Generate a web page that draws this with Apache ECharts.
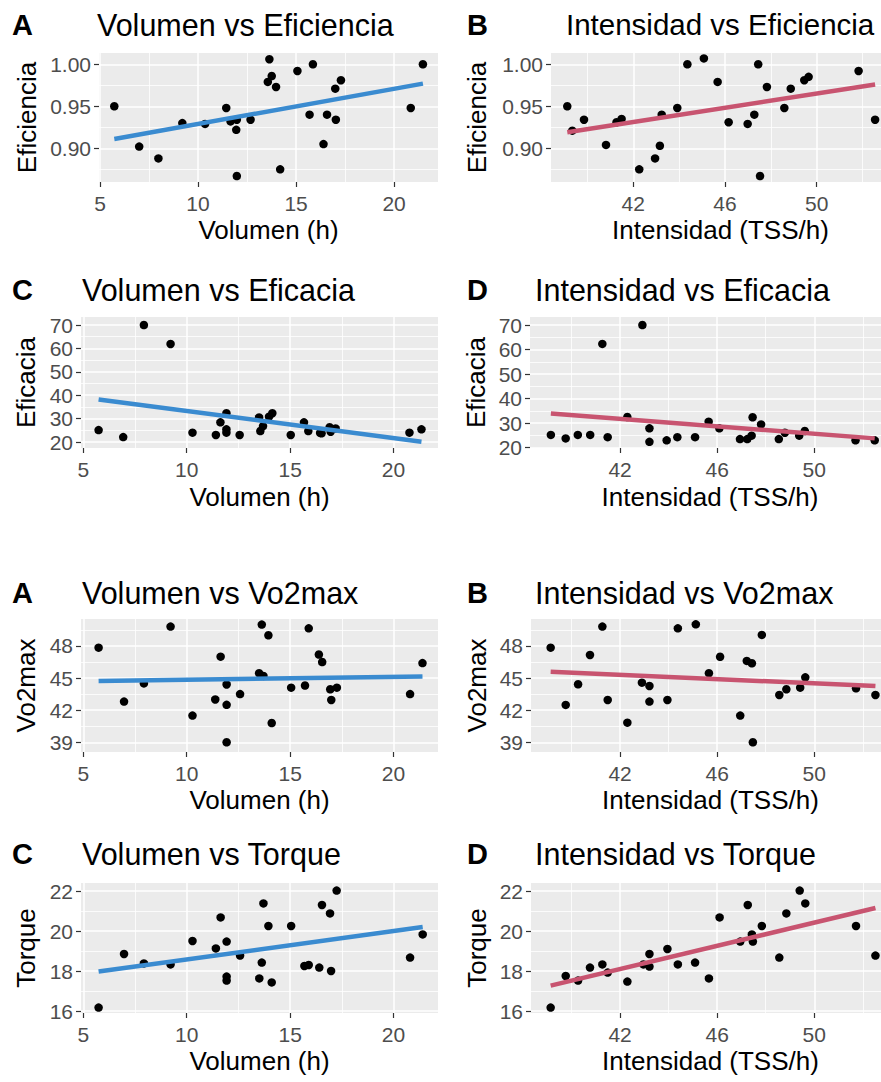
<!DOCTYPE html>
<html>
<head>
<meta charset="utf-8">
<title>Volumen e Intensidad vs rendimiento</title>
<script src="https://cdn.jsdelivr.net/npm/echarts@6/dist/echarts.min.js"></script>
<style>
  html, body { margin: 0; padding: 0; background: #fff; }
  #chart { width: 881px; height: 1082px; }
</style>
</head>
<body>
<div id="chart"></div>
<script>
// tick values
const ticksVol = [5, 10, 15, 20];
const minorVol = [7.5, 12.5, 17.5];
const ticksInt = [42, 46, 50];
const minorInt = [40, 44, 48, 52];
const ticksEfi = [0.90, 0.95, 1.00];
const minorEfi = [0.875, 0.925, 0.975];
const ticksEfc = [20, 30, 40, 50, 60, 70];
const minorEfc = [25, 35, 45, 55, 65];
const ticksVo2 = [39, 42, 45, 48];
const minorVo2 = [40.5, 43.5, 46.5, 49.5];
const ticksTor = [16, 18, 20, 22];
const minorTor = [17, 19, 21];

// Volumen vs Eficiencia
const volEfi = [[5.73,0.950],[7.00,0.902],[7.98,0.888],[9.20,0.930],[10.36,0.929],[11.44,0.948],[11.66,0.932],[11.98,0.934],[11.95,0.922],[11.98,0.867],[12.68,0.934],[13.56,0.979],[13.64,1.006],[13.76,0.986],[13.98,0.973],[14.19,0.875],[15.07,0.992],[15.69,0.940],[15.86,1.000],[16.40,0.905],[16.58,0.940],[17.00,0.971],[17.03,0.934],[17.29,0.981],[20.85,0.948],[21.47,1.000]];
const fitVolEfi = [[5.73,0.911],[21.47,0.977]];

// Intensidad vs Eficiencia
const intEfi = [[39.12,0.950],[39.34,0.921],[39.85,0.934],[40.81,0.904],[41.27,0.931],[41.49,0.935],[42.26,0.875],[42.95,0.888],[43.16,0.903],[43.24,0.940],[43.92,0.948],[44.36,1.000],[45.08,1.007],[45.68,0.979],[46.16,0.931],[46.99,0.929],[47.28,0.940],[47.45,1.000],[47.53,0.867],[47.83,0.973],[48.59,0.948],[48.87,0.971],[49.46,0.981],[49.65,0.985],[51.83,0.992],[52.55,0.934]];
const fitIntEfi = [[39.12,0.919],[52.55,0.976]];

// Volumen vs Eficacia
const volEfc = [[5.74,25.1],[6.93,22.1],[7.93,70.0],[9.22,61.9],[10.28,24.0],[11.41,23.0],[11.63,28.4],[11.92,32.3],[11.92,25.4],[11.92,24.0],[12.56,23.0],[13.50,30.5],[13.56,24.7],[13.69,26.8],[13.98,30.8],[14.14,32.3],[15.03,23.0],[15.67,28.4],[15.88,24.7],[16.45,23.9],[16.52,23.7],[16.91,26.3],[16.96,24.4],[17.20,25.8],[20.77,24.0],[21.35,25.4]];
const fitVolEfc = [[5.74,38.2],[21.35,20.1]];

// Intensidad vs Eficacia
const intEfc = [[39.15,25.2],[39.76,23.8],[40.26,25.2],[40.77,25.2],[41.27,62.3],[41.49,24.3],[42.30,32.5],[42.92,70.0],[43.21,27.9],[43.21,22.4],[43.92,23.0],[44.36,24.3],[45.09,24.3],[45.65,30.6],[46.09,27.9],[46.94,23.5],[47.24,23.5],[47.42,24.9],[47.46,32.4],[47.81,29.5],[48.54,23.5],[48.79,26.1],[49.38,24.9],[49.61,26.8],[51.70,23.0],[52.49,23.0]];
const fitIntEfc = [[39.15,33.9],[52.49,23.8]];

// Volumen vs Vo2max
const volVo2 = [[5.74,47.84],[6.97,42.80],[7.93,44.50],[9.22,49.81],[10.28,41.49],[11.38,43.00],[11.64,47.00],[11.93,42.50],[11.93,44.40],[11.93,39.00],[12.58,43.50],[13.50,45.45],[13.63,50.00],[13.71,45.20],[13.95,49.00],[14.11,40.80],[15.05,44.10],[15.72,44.30],[15.90,49.65],[16.39,47.20],[16.55,46.50],[16.94,43.95],[16.99,42.95],[17.26,44.10],[20.80,43.50],[21.40,46.40]];
const fitVolVo2 = [[5.74,44.73],[21.40,45.15]];

// Intensidad vs Vo2max
const intVo2 = [[39.14,47.84],[39.76,42.49],[40.27,44.42],[40.76,47.16],[41.27,49.81],[41.49,42.95],[42.30,40.83],[42.90,44.57],[43.21,44.26],[43.21,42.80],[43.95,42.95],[44.38,49.65],[45.12,50.02],[45.66,45.45],[46.12,46.99],[46.95,41.49],[47.22,46.60],[47.43,46.38],[47.47,39.00],[47.84,49.03],[48.56,43.42],[48.85,43.95],[49.42,44.10],[49.63,45.07],[51.72,44.04],[52.52,43.42]];
const fitIntVo2 = [[39.14,45.60],[52.52,44.25]];

// Volumen vs Torque
const volTor = [[5.74,16.17],[6.97,18.85],[7.93,18.38],[9.22,18.33],[10.28,19.50],[11.41,19.13],[11.64,20.68],[11.93,19.47],[11.93,17.72],[11.93,17.52],[12.58,18.77],[13.51,17.63],[13.63,18.42],[13.71,21.38],[13.95,20.25],[14.11,17.43],[15.05,20.25],[15.69,18.25],[15.90,18.30],[16.41,18.17],[16.54,21.30],[16.93,20.88],[16.98,18.00],[17.25,22.02],[20.80,18.67],[21.41,19.83]];
const fitVolTor = [[5.74,17.97],[21.41,20.20]];

// Intensidad vs Torque
const intTor = [[39.14,16.17],[39.76,17.75],[40.27,17.52],[40.76,18.17],[41.27,18.33],[41.49,17.92],[42.30,17.47],[42.96,18.33],[43.21,18.85],[43.21,18.22],[43.95,19.10],[44.38,18.33],[45.09,18.42],[45.66,17.63],[46.10,20.68],[46.95,19.47],[47.26,21.30],[47.43,19.83],[47.47,19.47],[47.84,20.25],[48.56,18.67],[48.85,20.88],[49.40,22.02],[49.63,21.38],[51.72,20.25],[52.52,18.77]];
const fitIntTor = [[39.14,17.27],[52.52,21.15]];

const BLUE = '#3A8BD0';
const PINK = '#C85470';
const FONT = '"Liberation Sans", Arial, sans-serif';

// layout: box = [left, top, width, height] of the grey panel
const panels = [
  { letter: 'A', title: 'Volumen vs Eficiencia', data: volEfi, fit: fitVolEfi, color: BLUE,
    xName: 'Volumen (h)', yName: 'Eficiencia', xTicks: ticksVol, xMinor: minorVol, yTicks: ticksEfi, yMinor: minorEfi,
    yFmt: v => v.toFixed(2), box: [99, 53, 339, 129], x: [4.95, 22.24], y: [0.8599, 1.0134],
    letterX: 12, titleX: 97, titleY: 24.5, titleSize: 30.5, yGap: 59, xGap: 35 },
  { letter: 'B', title: 'Intensidad vs Eficiencia', data: intEfi, fit: fitIntEfi, color: PINK,
    xName: 'Intensidad (TSS/h)', yName: 'Eficiencia', xTicks: ticksInt, xMinor: minorInt, yTicks: ticksEfi, yMinor: minorEfi,
    yFmt: v => v.toFixed(2), box: [551, 53, 339, 129], x: [38.41, 53.2], y: [0.8599, 1.0134],
    letterX: 467, titleX: 566, titleY: 24.5, titleSize: 29.5, yGap: 61, xGap: 35 },
  { letter: 'C', title: 'Volumen vs Eficacia', data: volEfc, fit: fitVolEfc, color: BLUE,
    xName: 'Volumen (h)', yName: 'Eficacia', xTicks: ticksVol, xMinor: minorVol, yTicks: ticksEfc, yMinor: minorEfc,
    yFmt: v => String(v), box: [81, 317, 357, 131], x: [4.889, 22.15], y: [17.44, 73.42],
    letterX: 12, titleX: 82, titleY: 289.5, titleSize: 30.5, yGap: 42, xGap: 36 },
  { letter: 'D', title: 'Intensidad vs Eficacia', data: intEfc, fit: fitIntEfc, color: PINK,
    xName: 'Intensidad (TSS/h)', yName: 'Eficacia', xTicks: ticksInt, xMinor: minorInt, yTicks: ticksEfc, yMinor: minorEfc,
    yFmt: v => String(v), box: [530, 317, 360, 131], x: [38.29, 53.12], y: [19.88, 73.26],
    letterX: 467, titleX: 535, titleY: 289.5, titleSize: 30.5, yGap: 41, xGap: 36 },
  { letter: 'A', title: 'Volumen vs Vo2max', data: volVo2, fit: fitVolVo2, color: BLUE,
    xName: 'Volumen (h)', yName: 'Vo2max', xTicks: ticksVol, xMinor: minorVol, yTicks: ticksVo2, yMinor: minorVo2,
    yFmt: v => String(v), box: [81, 619, 357, 133], x: [4.889, 22.15], y: [38.09, 50.52],
    letterX: 12, titleX: 82, titleY: 593, titleSize: 30.5, yGap: 42, xGap: 35 },
  { letter: 'B', title: 'Intensidad vs Vo2max', data: intVo2, fit: fitIntVo2, color: PINK,
    xName: 'Intensidad (TSS/h)', yName: 'Vo2max', xTicks: ticksInt, xMinor: minorInt, yTicks: ticksVo2, yMinor: minorVo2,
    yFmt: v => String(v), box: [531, 619, 359, 133], x: [38.33, 53.12], y: [38.09, 50.52],
    letterX: 467, titleX: 535, titleY: 593, titleSize: 30.5, yGap: 41, xGap: 35 },
  { letter: 'C', title: 'Volumen vs Torque', data: volTor, fit: fitVolTor, color: BLUE,
    xName: 'Volumen (h)', yName: 'Torque', xTicks: ticksVol, xMinor: minorVol, yTicks: ticksTor, yMinor: minorTor,
    yFmt: v => String(v), box: [81, 883, 357, 130], x: [4.889, 22.15], y: [15.9, 22.4],
    letterX: 12, titleX: 82, titleY: 854, titleSize: 30.5, yGap: 42, xGap: 35 },
  { letter: 'D', title: 'Intensidad vs Torque', data: intTor, fit: fitIntTor, color: PINK,
    xName: 'Intensidad (TSS/h)', yName: 'Torque', xTicks: ticksInt, xMinor: minorInt, yTicks: ticksTor, yMinor: minorTor,
    yFmt: v => String(v), box: [531, 883, 359, 130], x: [38.33, 53.12], y: [15.9, 22.4],
    letterX: 467, titleX: 535, titleY: 854, titleSize: 30.5, yGap: 41, xGap: 35 }
];

const tickStyle = { length: 5, lineStyle: { color: '#333333', width: 1.2 } };
const labelStyle = { color: '#4D4D4D', fontSize: 21, fontFamily: FONT };
const nameStyle = { color: '#000', fontSize: 26, fontFamily: FONT };

const grid = [], xAxis = [], yAxis = [], series = [], graphic = [];

panels.forEach((p, i) => {
  grid.push({
    left: p.box[0], top: p.box[1], width: p.box[2], height: p.box[3],
    show: true, backgroundColor: '#EBEBEB', borderWidth: 0, outerBoundsMode: 'none'
  });

  // major x axis (labels, ticks, name)
  xAxis.push({
    gridIndex: i, type: 'value', min: p.x[0], max: p.x[1], position: 'bottom',
    axisLine: { show: false, onZero: false },
    axisTick: Object.assign({ show: true, customValues: p.xTicks }, tickStyle),
    axisLabel: Object.assign({ customValues: p.xTicks, margin: 11 }, labelStyle),
    splitLine: { show: true, lineStyle: { color: '#fff', width: 1.5 } },
    name: p.xName, nameLocation: 'middle', nameGap: p.xGap, nameMoveOverlap: false,
    nameTextStyle: nameStyle
  });
  // minor x grid lines
  xAxis.push({
    gridIndex: i, type: 'value', min: p.x[0], max: p.x[1], position: 'bottom',
    axisLine: { show: false, onZero: false },
    axisTick: { show: false, customValues: p.xMinor },
    axisLabel: { show: false, customValues: p.xMinor },
    splitLine: { show: true, lineStyle: { color: '#fff', width: 0.8 } }
  });

  yAxis.push({
    gridIndex: i, type: 'value', min: p.y[0], max: p.y[1], position: 'left',
    axisLine: { show: false, onZero: false },
    axisTick: Object.assign({ show: true, customValues: p.yTicks }, tickStyle),
    axisLabel: Object.assign({ customValues: p.yTicks, margin: 8, formatter: p.yFmt }, labelStyle),
    splitLine: { show: true, lineStyle: { color: '#fff', width: 1.5 } },
    name: p.yName, nameLocation: 'middle', nameRotate: 90, nameGap: p.yGap, nameMoveOverlap: false,
    nameTextStyle: nameStyle
  });
  yAxis.push({
    gridIndex: i, type: 'value', min: p.y[0], max: p.y[1], position: 'left',
    axisLine: { show: false, onZero: false },
    axisTick: { show: false, customValues: p.yMinor },
    axisLabel: { show: false, customValues: p.yMinor },
    splitLine: { show: true, lineStyle: { color: '#fff', width: 0.8 } }
  });

  series.push({
    type: 'scatter', xAxisIndex: 2 * i, yAxisIndex: 2 * i, data: p.data,
    symbolSize: 8.5, itemStyle: { color: '#000', opacity: 1 }, z: 3, silent: true
  });
  series.push({
    type: 'line', xAxisIndex: 2 * i, yAxisIndex: 2 * i, data: p.fit,
    symbol: 'none', z: 4, silent: true,
    lineStyle: { color: p.color, width: 4.5, opacity: 1 }
  });

  graphic.push({
    type: 'text', silent: true,
    style: { text: p.letter, x: p.letterX, y: p.titleY, fill: '#000',
      font: 'bold 29px ' + FONT, verticalAlign: 'middle' }
  });
  graphic.push({
    type: 'text', silent: true,
    style: { text: p.title, x: p.titleX, y: p.titleY, fill: '#000',
      font: p.titleSize + 'px ' + FONT, verticalAlign: 'middle' }
  });
});

const chart = echarts.init(document.getElementById('chart'), null, { renderer: 'svg' });
chart.setOption({
  animation: false,
  backgroundColor: '#fff',
  grid: grid,
  xAxis: xAxis,
  yAxis: yAxis,
  series: series,
  graphic: graphic
});
</script>
</body>
</html>
